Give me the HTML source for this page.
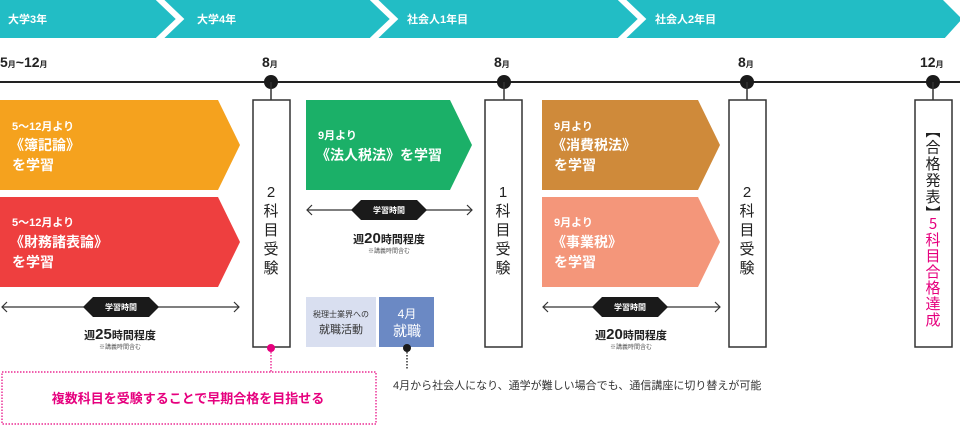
<!DOCTYPE html>
<html><head><meta charset="utf-8"><style>
html,body{margin:0;padding:0;background:#fff;}
svg{display:block;font-family:"Liberation Sans","Noto Sans CJK JP",sans-serif;}
.w{fill:#fff;font-weight:bold;}
.m{font-weight:bold;fill:#222;}
.v{font-size:15px;fill:#222;text-anchor:middle;}
.vt{font-size:15px;writing-mode:vertical-rl;text-orientation:upright;font-family:"Noto Sans CJK JP",sans-serif;}
</style></head><body>
<svg width="960" height="427" viewBox="0 0 960 427">
<rect x="0" y="0" width="960" height="38" fill="#22bdc5"/>
<polyline points="158,-2 180,19 158,40" fill="none" stroke="#fff" stroke-width="6"/>
<polyline points="372,-2 394,19 372,40" fill="none" stroke="#fff" stroke-width="6"/>
<polyline points="620,-2 642,19 620,40" fill="none" stroke="#fff" stroke-width="6"/>
<polygon points="943,0 962,0 962,40 943,40 962,19" fill="#fff"/>
<g class="w" font-size="11">
<text x="8" y="23">大学3年</text>
<text x="197" y="23">大学4年</text>
<text x="407" y="23">社会人1年目</text>
<text x="655" y="23">社会人2年目</text>
</g>
<g class="m" font-size="14">
<text x="0" y="67">5<tspan font-size="8">月</tspan>~12<tspan font-size="8">月</tspan></text>
<text x="262" y="67">8<tspan font-size="8">月</tspan></text>
<text x="494" y="67">8<tspan font-size="8">月</tspan></text>
<text x="738" y="67">8<tspan font-size="8">月</tspan></text>
<text x="920" y="67">12<tspan font-size="8">月</tspan></text>
</g>
<line x1="0" y1="82" x2="960" y2="82" stroke="#222" stroke-width="2"/>
<g fill="#1a1a1a">
<circle cx="271" cy="82" r="7"/><circle cx="504" cy="82" r="7"/><circle cx="747" cy="82" r="7"/><circle cx="933" cy="82" r="7"/>
</g>
<g stroke="#333" stroke-width="1.5" fill="none">
<line x1="271" y1="82" x2="271" y2="100"/><line x1="504" y1="82" x2="504" y2="100"/><line x1="747" y1="82" x2="747" y2="100"/><line x1="933" y1="82" x2="933" y2="100"/>
<rect x="253" y="100" width="37" height="247" fill="#fff"/>
<rect x="485" y="100" width="37" height="247" fill="#fff"/>
<rect x="729" y="100" width="37" height="247" fill="#fff"/>
<rect x="915" y="100" width="37" height="247" fill="#fff"/>
</g>
<g class="v">
<text x="271" y="197">2</text><text x="271" y="216">科</text><text x="271" y="235">目</text><text x="271" y="254">受</text><text x="271" y="273">験</text>
<text x="503" y="197">1</text><text x="503" y="216">科</text><text x="503" y="235">目</text><text x="503" y="254">受</text><text x="503" y="273">験</text>
<text x="747" y="197">2</text><text x="747" y="216">科</text><text x="747" y="235">目</text><text x="747" y="254">受</text><text x="747" y="273">験</text>
</g>
<text class="vt" x="933" y="123" fill="#222" letter-spacing="1.5">【合格発表】</text>
<text class="vt" x="933" y="216" fill="#e6007e" letter-spacing="1">5科目合格達成</text>
<polygon points="0,100 218,100 240,145 218,190 0,190" fill="#f5a21e"/>
<polygon points="0,197 218,197 240,242 218,287 0,287" fill="#ee3f3f"/>
<polygon points="306,100 450,100 472,145 450,190 306,190" fill="#1bb068"/>
<polygon points="542,100 698,100 720,145 698,190 542,190" fill="#cf8a3a"/>
<polygon points="542,197 698,197 720,242 698,287 542,287" fill="#f4967a"/>
<g class="w">
<text x="12" y="130" font-size="11">5～12月より</text>
<text x="10" y="150" font-size="14">《簿記論》</text>
<text x="12" y="170" font-size="14">を学習</text>
<text x="12" y="226" font-size="11">5～12月より</text>
<text x="10" y="247" font-size="14">《財務諸表論》</text>
<text x="12" y="267" font-size="14">を学習</text>
<text x="318" y="139" font-size="11">9月より</text>
<text x="316" y="160" font-size="14">《法人税法》を学習</text>
<text x="554" y="130" font-size="11">9月より</text>
<text x="552" y="150" font-size="14">《消費税法》</text>
<text x="554" y="170" font-size="14">を学習</text>
<text x="554" y="226" font-size="11">9月より</text>
<text x="552" y="247" font-size="14">《事業税》</text>
<text x="554" y="267" font-size="14">を学習</text>
</g>
<g stroke="#333" stroke-width="1.2" fill="none">
<line x1="2" y1="307" x2="239" y2="307"/><polyline points="7,302 2,307 7,312"/><polyline points="234,302 239,307 234,312"/>
<line x1="307" y1="210" x2="472" y2="210"/><polyline points="312,205 307,210 312,215"/><polyline points="467,205 472,210 467,215"/>
<line x1="543" y1="307" x2="720" y2="307"/><polyline points="548,302 543,307 548,312"/><polyline points="715,302 720,307 715,312"/>
</g>
<g fill="#1a1a1a">
<polygon points="83,307 93,297 149,297 159,307 149,317 93,317"/>
<polygon points="351,210 361,200 417,200 427,210 417,220 361,220"/>
<polygon points="592,307 602,297 658,297 668,307 658,317 602,317"/>
</g>
<g fill="#fff" font-size="8" font-weight="bold" text-anchor="middle">
<text x="121" y="310">学習時間</text><text x="389" y="213">学習時間</text><text x="630" y="310">学習時間</text>
</g>
<g class="m" text-anchor="middle" font-size="11">
<text x="120" y="339">週<tspan font-size="15">25</tspan>時間程度</text>
<text x="389" y="243">週<tspan font-size="15">20</tspan>時間程度</text>
<text x="631" y="339">週<tspan font-size="15">20</tspan>時間程度</text>
</g>
<g fill="#555" font-size="6" text-anchor="middle">
<text x="120" y="349">※講義時間含む</text><text x="389" y="253">※講義時間含む</text><text x="631" y="349">※講義時間含む</text>
</g>
<rect x="306" y="297" width="70" height="50" fill="#d9dff0"/>
<rect x="379" y="297" width="55" height="50" fill="#6b89c4"/>
<text x="341" y="317" font-size="8" fill="#333" text-anchor="middle">税理士業界への</text>
<text x="341" y="333" font-size="11" fill="#333" text-anchor="middle">就職活動</text>
<text x="407" y="318" font-size="12" fill="#fff" text-anchor="middle">4月</text>
<text x="407" y="336" font-size="14" fill="#fff" text-anchor="middle">就職</text>
<circle cx="407" cy="348" r="4" fill="#1a1a1a"/>
<line x1="407" y1="352" x2="407" y2="370" stroke="#333" stroke-width="1.5" stroke-dasharray="1.5,1.5"/>
<text x="393" y="389" font-size="11" fill="#333">4月から社会人になり、通学が難しい場合でも、通信講座に切り替えが可能</text>
<circle cx="271" cy="348" r="4" fill="#e6007e"/>
<line x1="271" y1="352" x2="271" y2="372" stroke="#e6007e" stroke-width="1.2" stroke-dasharray="1.5,1.5"/>
<rect x="2" y="372" width="374" height="52" fill="none" stroke="#e6007e" stroke-width="1.2" stroke-dasharray="1.5,1.5"/>
<text x="188" y="403" font-size="13" font-weight="bold" fill="#e6007e" text-anchor="middle">複数科目を受験することで早期合格を目指せる</text>
</svg>
</body></html>
